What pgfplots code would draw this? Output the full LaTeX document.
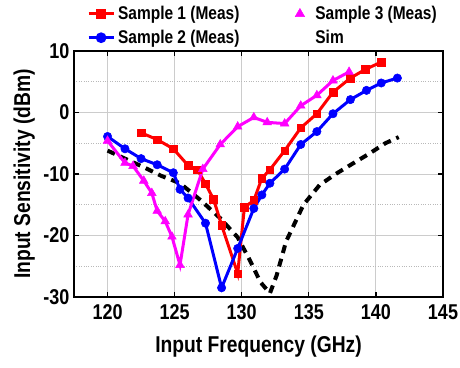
\documentclass[border=0pt]{standalone}
\usepackage{fontspec}
\setmainfont[FakeStretch=0.84]{Liberation Sans}
\usepackage{pgfplots}
\pgfplotsset{compat=1.18}
\usepackage{pgfplotstable}
\definecolor{cred}{RGB}{255,0,0}
\definecolor{cblue}{RGB}{0,0,255}
\definecolor{cmag}{RGB}{255,0,255}
\newcommand{\legfont}{\bfseries\fontsize{18.5}{21}\selectfont}

\pgfplotsset{
  mylinelegend/.style={legend image code/.code={\draw[mark repeat=2,mark phase=2,##1] plot coordinates {(0bp,0bp) (12.5bp,0bp) (25bp,0bp)};}},
  mytrilegend/.style={legend image code/.code={\path[draw=none,fill=none] (0bp,0bp) -- (25bp,0bp); \draw[##1] plot coordinates {(12.5bp,0bp)};}},
  myemptylegend/.style={legend image code/.code={\path[draw=none,fill=none] (0bp,0bp) -- (25bp,0bp);}},
}

\pgfplotstableread{
f v
122.5 -3.3
123.7 -4.4
124.9 -5.9
126.0 -8.6
126.7 -9.3
127.3 -11.6
127.9 -14.1
128.5 -18.3
129.7 -26.2
130.2 -15.4
130.9 -14.3
131.5 -10.7
132.1 -9.3
133.2 -6.2
134.4 -2.5
135.6 -0.2
136.8 3.3
138.1 5.6
139.2 7.0
140.4 8.2
}\sampleone

\pgfplotstableread{
f v
120.0 -3.9
121.3 -5.9
122.5 -7.5
123.7 -8.5
124.9 -9.8
125.4 -12.5
126.0 -13.9
127.3 -18.0
128.5 -28.5
129.7 -22.1
130.9 -15.6
131.5 -13.4
132.1 -11.5
133.2 -9.2
134.4 -5.2
135.6 -3.1
136.8 -0.2
138.1 2.1
139.3 3.6
140.4 4.8
141.6 5.6
}\sampletwo

\pgfplotstableread{
f v
120.0 -4.6
121.3 -8.2
121.9 -8.7
122.7 -11.1
123.3 -13.1
123.7 -16.0
124.3 -17.7
124.8 -20.2
125.4 -24.8
126.0 -16.6
127.1 -9.2
128.4 -5.2
129.7 -2.3
130.9 -0.8
131.9 -1.6
133.2 -1.8
134.4 1.1
135.6 2.8
136.8 5.2
138.0 6.6
}\samplethree

\pgfplotstableread{
f v
120.0 -6.2
121.4 -7.6
122.8 -9.0
124.0 -10.3
125.4 -11.5
126.9 -14.2
128.4 -17.2
129.7 -20.3
130.6 -24.0
131.4 -27.6
132.1 -29.4
132.6 -26.5
133.3 -21.0
134.6 -15.0
135.8 -11.8
137.0 -10.0
138.2 -8.4
139.5 -6.7
140.7 -5.0
141.7 -4.0
}\simdata

\begin{document}
\begin{tikzpicture}
\begin{axis}[
  at={(0,0)}, anchor=south west,
  scale only axis, width=369bp, height=246bp,
  xmin=117.5, xmax=145, ymin=-30, ymax=10,
  xtick={120,125,...,145}, ytick={-30,-20,...,10},
  minor ytick={-25,-15,...,5},
  grid=both,
  major grid style={gray!40, line width=0.9bp},
  minor grid style={gray!55, dotted, line width=0.9bp},
  axis line style={line width=1.6bp},
  major tick style={black, line width=1.2bp},
  major tick length=5bp, minor tick length=0pt,
  tick align=inside,
  /pgf/number format/assume math mode=true,
  tick label style={font=\bfseries\fontsize{21.5}{24}\selectfont},
  xticklabel style={yshift=-4bp},
  yticklabel style={xshift=-1bp},
  xlabel={Input Frequency (GHz)},
  ylabel={Input Sensitivity (dBm)},
  label style={font=\bfseries\fontsize{23}{26}\selectfont},
  xlabel style={at={(axis description cs:0.5,-0.2)}, anchor=center},
  ylabel style={at={(axis description cs:-0.135,0.5)}, anchor=center},
  legend columns=2,
  legend style={draw=none, fill=none, font=\legfont, nodes={font=\legfont},
    at={(axis description cs:0.035,1.19)}, anchor=north west,
    row sep=5bp, inner sep=0pt,
    /tikz/every odd column/.append style={column sep=1bp},
    /tikz/every even column/.append style={column sep=46bp}},
  legend cell align=left,
  mylinelegend,
]
\addlegendimage{cred, line width=3bp, mark=square*, mark size=3.6bp, mark options={solid}}
\addlegendentry{Sample 1 (Meas)}
\addlegendimage{cmag, mytrilegend, only marks, mark=triangle*, mark size=5.5bp}
\addlegendentry{Sample 3 (Meas)}
\addlegendimage{cblue, line width=3bp, mark=*, mark size=3.8bp, mark options={solid}}
\addlegendentry{Sample 2 (Meas)}
\addlegendimage{black, myemptylegend}
\addlegendentry{Sim}

\addplot[forget plot, black, line width=4bp, dash pattern=on 8bp off 6bp] table[x=f,y=v] {\simdata};
\addplot[forget plot, cred, line width=3bp, mark=square*, mark size=3.8bp, mark options={solid, line width=0.5bp}] table[x=f,y=v] {\sampleone};
\addplot[forget plot, cblue, line width=3bp, mark=*, mark size=4.2bp, mark options={solid, line width=0.5bp}] table[x=f,y=v] {\sampletwo};
\addplot[forget plot, cmag, line width=3bp, mark=triangle*, mark size=5bp, mark options={solid, line width=0.5bp}] table[x=f,y=v] {\samplethree};
\end{axis}
\pgfresetboundingbox
\path[use as bounding box] (-74bp,-71bp) rectangle (386bp,297bp);
\end{tikzpicture}
\end{document}
